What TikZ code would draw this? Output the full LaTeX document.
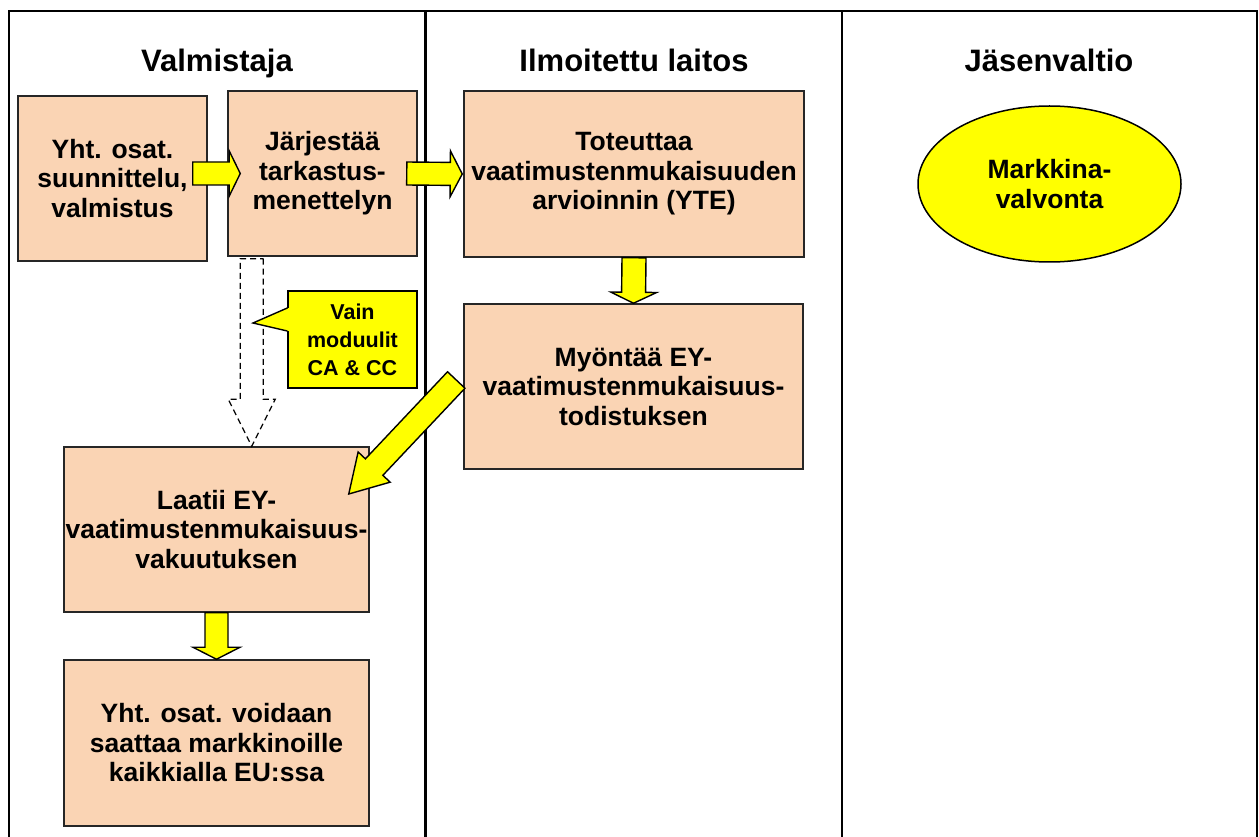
\documentclass[tikz,border=0pt]{standalone}
\usepackage{fontspec}
\setmainfont{Liberation Sans}
\usetikzlibrary{calc,shapes.geometric}
\definecolor{peach}{HTML}{FAD4B4}
\definecolor{yel}{HTML}{FFFF00}
\begin{document}
\begin{tikzpicture}[x=1pt,y=-1pt,
 box/.style={rectangle, draw=black!85, line width=1.5pt, fill=peach, inner sep=0pt, align=center, font=\bfseries\fontsize{26.5}{29.5}\selectfont},
 heading/.style={inner sep=0pt, anchor=base, font=\bfseries\fontsize{31}{36}\selectfont},
 barrowshape/.style n args={3}{line join=miter, to path={let \p1=(\tikztostart), \p2=(\tikztotarget), \n1={atan2(\y2-\y1,\x2-\x1)}, \n2={veclen(\x2-\x1,\y2-\y1)-#3} in ($(\p1)+(\n1+90:#1)$) -- ($(\p1)+(\n1:\n2)+(\n1+90:#1)$) -- ($(\p1)+(\n1:\n2)+(\n1+90:#2)$) -- (\p2) -- ($(\p1)+(\n1:\n2)+(\n1-90:#2)$) -- ($(\p1)+(\n1:\n2)+(\n1-90:#1)$) -- ($(\p1)+(\n1-90:#1)$) -- cycle}},
 barrow/.style n args={3}{draw=black, line width=1.4pt, fill=yel, barrowshape={#1}{#2}{#3}},
 dasharrow/.style n args={3}{draw=black, line width=1.3pt, dash pattern=on 6pt off 4pt, barrowshape={#1}{#2}{#3}},
 frameline/.style={draw=black, line width=2pt},
]
\useasboundingbox (0,0) rectangle (1259,837);
% frame
\draw[frameline] (9,837) -- (9,11) -- (1257,11) -- (1257,837);
\draw[frameline, line width=3pt] (425,11) -- (425,837);
\draw[frameline, line width=2.5pt] (842,11) -- (842,837);
% headings
\node[heading] (t1) at (217,72) {Valmistaja};
\node[heading] (t2) at (634,72) {Ilmoitettu laitos};
\node[heading] (t3) at (1049,72) {Jäsenvaltio};
% boxes
\node[box, minimum width=189pt, minimum height=165pt] (A) at (112.5,178.5) {Yht. osat.\\suunnittelu,\\valmistus};
\node[box, minimum width=189pt, minimum height=165pt] (B) at (322.5,173.5) {Järjestää\\tarkastus-\\menettelyn};
\node[box, minimum width=340pt, minimum height=166pt] (C) at (634,174) {Toteuttaa\\vaatimustenmukaisuuden\\arvioinnin (YTE)};
\node[box, minimum width=339pt, minimum height=165pt] (D) at (633.5,386.5) {Myöntää EY-\\vaatimustenmukaisuus-\\todistuksen};
\node[box, minimum width=305pt, minimum height=165pt] (E) at (216.5,529.5) {Laatii EY-\\vaatimustenmukaisuus-\\vakuutuksen};
\node[box, minimum width=305pt, minimum height=166pt] (F) at (216.5,743) {Yht. osat. voidaan\\saattaa markkinoille\\kaikkialla EU:ssa};
% ellipse
\node[ellipse, draw=black, line width=1.5pt, fill=yel, minimum width=263pt, minimum height=156pt, inner sep=0pt, align=center, font=\bfseries\fontsize{26.5}{30}\selectfont] (mv) at (1049.5,184) {Markkina-\\valvonta};
% arrow end points
\coordinate (a1s) at ($(A.east)+(-15,-5)$);
\coordinate (a1t) at ($(B.west)+(13,0)$);
\coordinate (a2s) at ($(B.east)+(-11,0)$);
\coordinate (a2t) at ($(C.west)+(-1,0)$);
\coordinate (a5s) at ($(D.west)+(-7,-6.5)$);
\coordinate (a5t) at ($(E.east)+(-21,-35.5)$);
\coordinate (ds) at ($(B.south west)+(24.5,2)$);
\coordinate (dt) at (ds |- E.north);
% dashed arrow
\draw[dasharrow={11.5pt}{23.5pt}{47pt}] (ds) to (dt);
% yellow block arrows
\draw[barrow={11.5pt}{22.5pt}{11pt}] (a1s) to (a1t);
\draw[barrow={11.5pt}{23pt}{12pt}] (a2s) to (a2t);
\draw[barrow={12pt}{23pt}{11pt}] (C.south) to (D.north);
\draw[barrow={11.5pt}{23.5pt}{12pt}] (E.south) to (F.north);
\draw[barrow={12pt}{22pt}{37pt}] (a5s) to (a5t);
% callout
\node[rectangle, draw=black, line width=1.4pt, fill=yel, minimum width=129pt, minimum height=97pt, inner sep=0pt, align=center, font=\bfseries\fontsize{21.5}{28}\selectfont] (vain) at (352.5,339.5) {Vain\\moduulit\\CA \& CC};
\coordinate (vtip) at (253,323);
\fill[yel] ($(vain.west)+(1.5,-31.5)$) -- (vtip) -- ($(vain.west)+(1.5,-8.5)$) -- cycle;
\draw[black, line width=1.4pt, line join=miter] ($(vain.west)+(0,-31.5)$) -- (vtip) -- ($(vain.west)+(0,-8.5)$);
\end{tikzpicture}
\end{document}
